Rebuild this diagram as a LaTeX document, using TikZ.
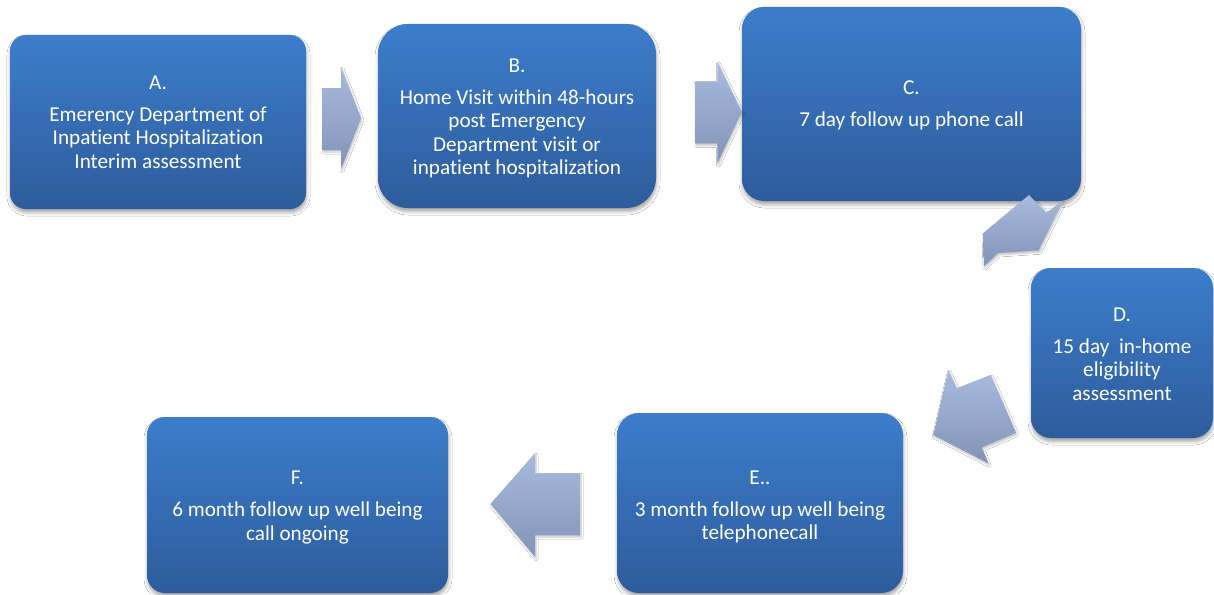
\documentclass[tikz,border=0pt]{standalone}
\usepackage{fontspec}
\setmainfont{Carlito}[Ligatures={NoCommon}]
\usetikzlibrary{shadows.blur}
\definecolor{boxtop}{HTML}{3C7DCB}
\definecolor{boxbot}{HTML}{2E5C9C}
\definecolor{arrtop}{HTML}{A9BBDD}
\definecolor{arrbot}{HTML}{8193B7}
\tikzset{
  stagebox/.style={rectangle, rounded corners=#1, top color=boxtop, bottom color=boxbot,
    inner sep=0pt,
    blur shadow={shadow xshift=0.5pt, shadow yshift=-3.5pt, shadow blur radius=3.5pt, shadow opacity=35}},
  stagebox/.default=18pt,
  stagetext/.style={text=white, align=center, inner sep=0pt,
    font=\fontsize{21.2}{23.5}\selectfont},
  blockarrow/.style={top color=arrtop, bottom color=arrbot, draw=none,
    blur shadow={shadow xshift=1pt, shadow yshift=-2pt, shadow blur radius=2pt, shadow opacity=25}}
}
\begin{document}
\begin{tikzpicture}[x=1pt,y=-1pt]
\fill[white] (0,0) rectangle (1214,594);
\useasboundingbox (0,0) rectangle (1214,594);

\node[stagebox=16pt, minimum width=296pt, minimum height=174pt] (A) at (158,122) {};
\node[stagebox=30pt, minimum width=278pt, minimum height=184pt] (B) at (517,116) {};
\node[stagebox=22pt, minimum width=339pt, minimum height=194pt] (C) at (911.5,104) {};
\node[stagebox=20pt, minimum width=182pt, minimum height=170pt] (D) at (1122,353) {};
\node[stagebox=22pt, minimum width=286pt, minimum height=180pt] (E) at (760,503) {};
\node[stagebox=18pt, minimum width=301pt, minimum height=176pt] (F) at (297.5,505) {};

\node[stagetext] (At) at ([yshift=0pt]A.center)
  {A.\\[8.5pt]Emerency Department of\\Inpatient Hospitalization\\Interim assessment};
\node[stagetext] (Bt) at ([yshift=-2.5pt]B.center)
  {B.\\[8.5pt]Home Visit within 48-hours\\post Emergency\\Department visit or\\inpatient hospitalization};
\node[stagetext] (Ct) at ([yshift=-1.5pt]C.center)
  {C.\\[8.5pt]7 day follow up phone call};
\node[stagetext] (Dt) at ([yshift=-1pt]D.center)
  {D.\\[8.5pt]15 day\ \ in-home\\eligibility\\assessment};
\node[stagetext] (Et) at ([yshift=-4pt]E.center)
  {E..\\[8.5pt]3 month follow up well being\\telephonecall};
\node[stagetext] (Ft) at ([yshift=-2.5pt]F.center)
  {F.\\[8.5pt]6 month follow up well being\\call ongoing};

% A -> B
\path[blockarrow] (322,88) -- (341,88) -- (341,67) -- (361,118) -- (341,169) -- (341,150) -- (322,150) -- cycle;
% B -> C
\path[blockarrow] (695,81.7) -- (717.3,81.7) -- (717.3,61.7) -- (741.7,111.7) -- (717.3,163.3) -- (717.3,143.3) -- (695,143.3) -- cycle;
% C -> D
\path[blockarrow] (1029,195) -- (1046.5,212.7) -- (1062.5,201.2) -- (1038.5,250.3) -- (998,253) -- (984,266) -- (983,233.5) -- cycle;
% D -> E
\path[blockarrow] (948.3,370) -- (956.7,388.3) -- (990.7,375) -- (1016,432.7) -- (981.7,447.3) -- (988.3,463.3) -- (933.3,435) -- cycle;
% E -> F
\path[blockarrow] (580,473.3) -- (535,473.3) -- (535,453.3) -- (490.7,504) -- (535,556.7) -- (535,535) -- (580,535) -- cycle;
\end{tikzpicture}
\end{document}
